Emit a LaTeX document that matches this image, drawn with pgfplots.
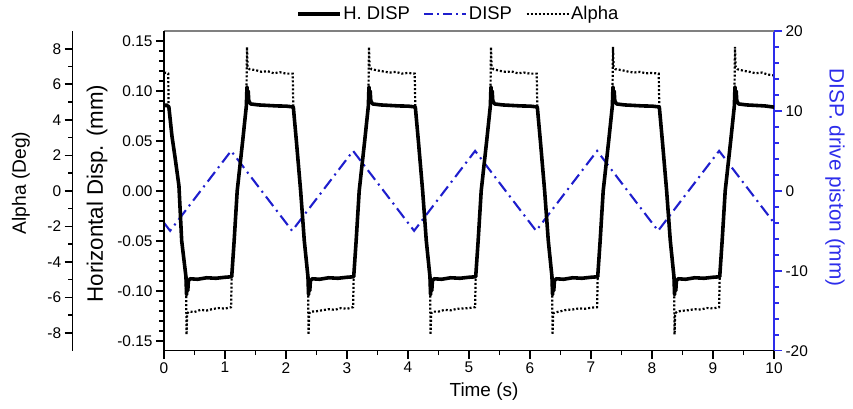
\documentclass[border=0pt]{standalone}
\usepackage{pgfplots}
\pgfplotsset{compat=1.18}
\usepackage{fontspec}
\setmainfont{Liberation Sans}
\definecolor{dispblue}{RGB}{30,30,205}
\definecolor{axblue}{RGB}{45,45,235}
\begin{document}
\begin{tikzpicture}
\pgfplotsset{
  base/.style={scale only axis, width=610bp, height=319.7bp, at={(0,0)}, anchor=south west,
    xmin=0, xmax=10,
    tick align=outside, major tick length=8bp, minor tick length=4.5bp,
    every tick/.style={line width=1.6pt, black},
    axis line style={line width=1.6pt, -},
    /pgf/number format/assume math mode=true,
    tick label style={font=\fontsize{15.5}{17}\selectfont},
  }
}
% Alpha data
\begin{axis}[base, ymin=-9, ymax=9, hide axis]
\addplot[black, line width=2.2pt, dash pattern=on 2bp off 2bp] coordinates {
(0.00,6.62) (0.03,6.65) (0.07,6.6) (0.075,4.7) (0.13,3.1) (0.18,1.9) (0.245,0.3) (0.29,-2.8) (0.36,-4.8) (0.37,-8.1) (0.38,-6.9) (0.41,-6.8) (0.5,-6.82) (0.6,-6.7) (0.7,-6.74) (0.8,-6.65) (0.9,-6.6) (1.0,-6.63) (1.10,-6.55)
(1.11,-4.8) (1.15,-2.8) (1.20,0.0) (1.29,2.8) (1.35,4.8) (1.36,8.1) (1.37,7.0) (1.40,6.85) (1.5,6.8) (1.6,6.7) (1.7,6.74) (1.8,6.62) (1.9,6.68) (2.0,6.6) (2.11,6.6)
(2.12,4.7) (2.17,2.8) (2.24,0.0) (2.30,-2.8) (2.36,-4.8) (2.37,-8.1) (2.38,-6.9) (2.41,-6.8) (2.5,-6.78) (2.6,-6.72) (2.7,-6.66) (2.8,-6.7) (2.9,-6.6) (3.0,-6.64) (3.10,-6.55)
(3.11,-4.8) (3.15,-2.8) (3.20,0.0) (3.29,2.8) (3.35,4.8) (3.36,8.1) (3.37,7.0) (3.40,6.85) (3.5,6.78) (3.6,6.72) (3.7,6.66) (3.8,6.7) (3.9,6.6) (4.0,6.64) (4.11,6.6)
(4.12,4.7) (4.17,2.8) (4.24,0.0) (4.30,-2.8) (4.36,-4.8) (4.37,-8.1) (4.38,-6.9) (4.41,-6.8) (4.5,-6.8) (4.6,-6.7) (4.7,-6.73) (4.8,-6.64) (4.9,-6.62) (5.0,-6.6) (5.10,-6.55)
(5.11,-4.8) (5.15,-2.8) (5.20,0.0) (5.29,2.8) (5.35,4.8) (5.36,8.1) (5.37,7.0) (5.40,6.85) (5.5,6.76) (5.6,6.7) (5.7,6.72) (5.8,6.62) (5.9,6.66) (6.0,6.6) (6.11,6.6)
(6.12,4.7) (6.17,2.8) (6.24,0.0) (6.30,-2.8) (6.36,-4.8) (6.37,-8.1) (6.38,-6.9) (6.41,-6.85) (6.5,-6.78) (6.6,-6.7) (6.7,-6.68) (6.8,-6.62) (6.9,-6.64) (7.0,-6.58) (7.10,-6.55)
(7.11,-4.8) (7.15,-2.8) (7.20,0.0) (7.29,2.8) (7.35,4.8) (7.36,8.1) (7.37,7.0) (7.40,6.85) (7.5,6.8) (7.6,6.72) (7.7,6.66) (7.8,6.7) (7.9,6.62) (8.0,6.64) (8.11,6.6)
(8.12,4.7) (8.17,2.8) (8.24,0.0) (8.30,-2.8) (8.36,-4.8) (8.37,-8.1) (8.38,-6.9) (8.41,-6.8) (8.5,-6.75) (8.6,-6.72) (8.7,-6.66) (8.8,-6.68) (8.9,-6.6) (9.0,-6.62) (9.10,-6.55)
(9.11,-4.8) (9.15,-2.8) (9.20,0.0) (9.29,2.8) (9.35,4.8) (9.36,8.1) (9.37,7.0) (9.40,6.85) (9.5,6.76) (9.6,6.7) (9.7,6.62) (9.8,6.66) (9.9,6.55) (10.0,6.5)
};
\end{axis}
% DISP (right axis)
\begin{axis}[base, ymin=-20, ymax=20, axis x line=none, axis y line*=right,
  ytick={-20,-10,0,10,20}, minor y tick num=4,
  y axis line style={axblue, line width=1.8pt},
  ytick style={axblue, line width=1.6pt},
  ylabel={DISP. drive piston (mm)},
  every axis y label/.style={at={(axis description cs:1.1,0.5418)}, anchor=center, rotate=-90, font=\fontsize{20.9}{23}\selectfont, text=axblue}]
\addplot[dispblue, line width=2.1pt, dash pattern=on 12bp off 5bp on 2bp off 5bp] coordinates {
(0,-4) (0.1,-5) (1.1,5) (2.1,-5) (3.1,5) (4.1,-5) (5.1,5) (6.1,-5) (7.1,5) (8.1,-5) (9.1,5) (10,-4)
};
\draw[gray, line width=1.5pt] (rel axis cs:0,1) -- (rel axis cs:1,1);
\end{axis}
% H. DISP (main)
\begin{axis}[base, ymin=-0.16, ymax=0.16, axis x line*=bottom, axis y line*=left,
  xtick={0,...,10}, minor x tick num=1,
  ytick={-0.15,-0.1,-0.05,0,0.05,0.1,0.15}, minor y tick num=4,
  yticklabel style={/pgf/number format/.cd, fixed, fixed zerofill, precision=2},
  xlabel={Time (s)}, ylabel={Horizontal Disp. (mm)},
  every axis x label/.style={at={(axis description cs:0.5246,-0.129)}, anchor=center, font=\fontsize{19}{21}\selectfont},
  every axis y label/.style={at={(axis description cs:-0.1098,0.4917)}, anchor=center, rotate=90, font=\fontsize{22.4}{24}\selectfont},
  legend columns=3,
  legend style={at={(axis description cs:0.482,1.053)}, anchor=center, draw=none, fill=none,
    font=\fontsize{18.5}{20}\selectfont, /tikz/every even column/.append style={column sep=12bp},
    nodes={inner sep=1.5bp}},
  legend image code/.code={\draw[#1] (0bp,0bp) -- (42bp,0bp);}]
\addplot[black, line width=3.6pt, line join=round] coordinates {
(0.00,0.085) (0.04,0.086) (0.08,0.084) (0.13,0.055) (0.18,0.034) (0.245,0.005) (0.29,-0.05) (0.36,-0.086) (0.37,-0.104) (0.38,-0.092) (0.39,-0.100) (0.40,-0.090) (0.43,-0.088) (0.55,-0.0885) (0.70,-0.087) (0.85,-0.0875) (1.00,-0.0865) (1.11,-0.086)
(1.15,-0.05) (1.20,0.0) (1.29,0.05) (1.35,0.085) (1.36,0.104) (1.37,0.092) (1.38,0.100) (1.39,0.090) (1.42,0.087) (1.55,0.086) (1.70,0.0855) (1.85,0.085) (2.00,0.0848) (2.12,0.084)
(2.17,0.05) (2.24,0.0) (2.30,-0.05) (2.36,-0.086) (2.37,-0.104) (2.38,-0.092) (2.39,-0.100) (2.40,-0.090) (2.43,-0.088) (2.55,-0.0885) (2.70,-0.087) (2.85,-0.0875) (3.00,-0.0865) (3.11,-0.086)
(3.15,-0.05) (3.20,0.0) (3.29,0.05) (3.35,0.085) (3.36,0.104) (3.37,0.092) (3.38,0.100) (3.39,0.090) (3.42,0.087) (3.55,0.086) (3.70,0.0855) (3.85,0.085) (4.00,0.0848) (4.12,0.084)
(4.17,0.05) (4.24,0.0) (4.30,-0.05) (4.36,-0.086) (4.37,-0.104) (4.38,-0.092) (4.39,-0.100) (4.40,-0.090) (4.43,-0.088) (4.55,-0.0885) (4.70,-0.087) (4.85,-0.0875) (5.00,-0.0865) (5.11,-0.086)
(5.15,-0.05) (5.20,0.0) (5.29,0.05) (5.35,0.085) (5.36,0.104) (5.37,0.092) (5.38,0.100) (5.39,0.090) (5.42,0.087) (5.55,0.086) (5.70,0.0855) (5.85,0.085) (6.00,0.0848) (6.12,0.084)
(6.17,0.05) (6.24,0.0) (6.30,-0.05) (6.36,-0.086) (6.37,-0.104) (6.38,-0.092) (6.39,-0.100) (6.40,-0.090) (6.43,-0.088) (6.55,-0.0885) (6.70,-0.087) (6.85,-0.0875) (7.00,-0.0865) (7.11,-0.086)
(7.15,-0.05) (7.20,0.0) (7.29,0.05) (7.35,0.085) (7.36,0.104) (7.37,0.092) (7.38,0.100) (7.39,0.090) (7.42,0.087) (7.55,0.086) (7.70,0.0855) (7.85,0.085) (8.00,0.0848) (8.12,0.084)
(8.17,0.05) (8.24,0.0) (8.30,-0.05) (8.36,-0.086) (8.37,-0.104) (8.38,-0.092) (8.39,-0.100) (8.40,-0.090) (8.43,-0.088) (8.55,-0.0885) (8.70,-0.087) (8.85,-0.0875) (9.00,-0.0865) (9.11,-0.086)
(9.15,-0.05) (9.20,0.0) (9.29,0.05) (9.35,0.085) (9.36,0.104) (9.37,0.092) (9.38,0.100) (9.39,0.090) (9.42,0.087) (9.55,0.086) (9.70,0.0855) (9.85,0.085) (10.0,0.0838)
};
\addlegendentry{H. DISP}
\addlegendimage{dispblue, line width=2.1pt, dash pattern=on 9bp off 4bp on 2bp off 4bp}
\addlegendentry{DISP}
\addlegendimage{black, line width=2.2pt, dash pattern=on 2bp off 2bp}
\addlegendentry{Alpha}
\end{axis}
% Alpha scale (offset axis)
\begin{axis}[scale only axis, width=10bp, height=319.7bp, at={(-91.3bp,0)}, anchor=south west,
  xmin=0, xmax=1, ymin=-9, ymax=9, axis x line=none, axis y line*=left,
  tick align=outside, major tick length=8bp, minor tick length=4.5bp,
  every tick/.style={line width=1.6pt, black},
  axis line style={line width=1.6pt, -},
  /pgf/number format/assume math mode=true,
  tick label style={font=\fontsize{15.5}{17}\selectfont},
  ytick={-8,-6,...,8}, minor y tick num=1,
  ylabel={Alpha (Deg)},
  every axis y label/.style={at={(axis description cs:-5.17,0.5246)}, anchor=center, rotate=90, font=\fontsize{19.3}{21}\selectfont}]
\addplot[draw=none] coordinates {(0,0)};
\end{axis}
\pgfresetboundingbox
\path[use as bounding box] (-164bp,-58.3bp) rectangle (689bp,350.7bp);
\end{tikzpicture}
\end{document}
